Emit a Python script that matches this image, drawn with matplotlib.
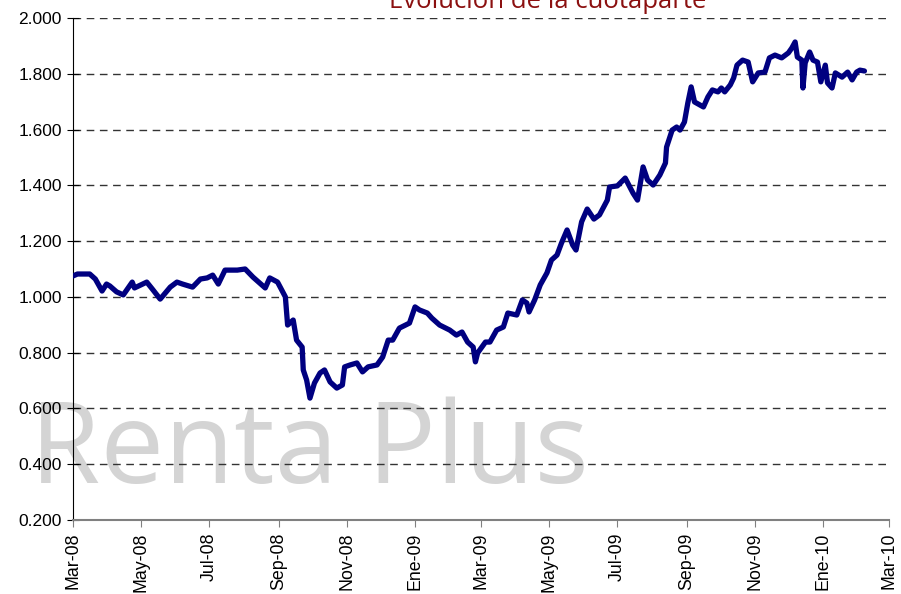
import matplotlib.pyplot as plt
from matplotlib.ticker import FuncFormatter
import pandas as pd

# days since 1-Mar-2008 and cuotaparte value
days = [0, 4, 15, 20, 26, 30, 33, 39, 45, 53, 55, 66, 71, 78, 87, 93, 98, 107,
        114, 120, 125, 130, 136, 147, 154, 161, 172, 176, 183, 190, 192, 197,
        200, 205, 206, 209, 212, 216, 221, 225, 230, 236, 241, 243, 248, 254,
        259, 264, 272, 277, 282, 286, 292, 301, 306, 310, 317, 321, 328, 337,
        343, 348, 353, 358, 360, 362, 369, 373, 379, 385, 389, 397, 402, 406,
        408, 413, 418, 424, 428, 433, 437, 442, 447, 450, 455, 460, 466, 471,
        478, 480, 487, 494, 501, 505, 510, 514, 519, 525, 530, 531, 536, 540,
        543, 547, 550, 553, 556, 564, 568, 572, 577, 580, 583, 588, 591, 594,
        599, 604, 608, 613, 619, 623, 628, 634, 640, 643, 646, 648, 652, 653,
        655, 659, 662, 666, 669, 673, 675, 679, 682, 688, 693, 697, 701, 704, 708]
values = [1.075, 1.082, 1.082, 1.064, 1.021, 1.046, 1.039, 1.018, 1.007, 1.053,
          1.032, 1.053, 1.028, 0.992, 1.035, 1.053, 1.046, 1.035, 1.064, 1.068,
          1.078, 1.046, 1.096, 1.096, 1.100, 1.071, 1.032, 1.068, 1.053, 1.000,
          0.899, 0.917, 0.845, 0.820, 0.738, 0.702, 0.637, 0.691, 0.727, 0.738,
          0.695, 0.673, 0.684, 0.749, 0.756, 0.763, 0.731, 0.749, 0.756, 0.784,
          0.845, 0.845, 0.888, 0.906, 0.964, 0.953, 0.942, 0.924, 0.899, 0.881,
          0.863, 0.874, 0.838, 0.820, 0.767, 0.799, 0.838, 0.838, 0.881, 0.892,
          0.942, 0.935, 0.989, 0.978, 0.946, 0.989, 1.043, 1.086, 1.132, 1.150,
          1.193, 1.240, 1.186, 1.168, 1.269, 1.315, 1.279, 1.294, 1.347, 1.394,
          1.398, 1.426, 1.372, 1.347, 1.466, 1.419, 1.401, 1.437, 1.480, 1.537,
          1.598, 1.609, 1.598, 1.627, 1.695, 1.753, 1.699, 1.681, 1.717, 1.742,
          1.735, 1.749, 1.735, 1.760, 1.785, 1.831, 1.849, 1.842, 1.771, 1.803,
          1.806, 1.857, 1.867, 1.857, 1.875, 1.892, 1.914, 1.860, 1.849, 1.749,
          1.839, 1.878, 1.849, 1.842, 1.771, 1.831, 1.767, 1.749, 1.803, 1.788,
          1.806, 1.778, 1.806, 1.813, 1.810]

tick_dates = ["2008-03-01", "2008-05-01", "2008-07-01", "2008-09-01", "2008-11-01",
              "2009-01-01", "2009-03-01", "2009-05-01", "2009-07-01", "2009-09-01",
              "2009-11-01", "2010-01-01", "2010-03-01"]
tick_labels = ["Mar-08", "May-08", "Jul-08", "Sep-08", "Nov-08", "Ene-09", "Mar-09",
               "May-09", "Jul-09", "Sep-09", "Nov-09", "Ene-10", "Mar-10"]
y_ticks = [0.2, 0.4, 0.6, 0.8, 1.0, 1.2, 1.4, 1.6, 1.8, 2.0]

dates = pd.Timestamp("2008-03-01") + pd.to_timedelta(days, unit="D")
ticks = pd.to_datetime(tick_dates)

plt.rcParams['font.family'] = ['Liberation Sans', 'DejaVu Sans']

fig = plt.figure(figsize=(9.01, 5.94), dpi=100)
ax = fig.add_axes([0.081, 0.1246, 0.9057, 0.8451])

ax.plot(dates, values, color="#000080", lw=3.8, solid_joinstyle="round",
        solid_capstyle="round", zorder=3)

ax.set_xlim(ticks[0], ticks[-1])
ax.set_ylim(0.2, 2.0)
ax.set_yticks(y_ticks)
ax.yaxis.set_major_formatter(FuncFormatter(lambda v, p: f"{v:.3f}"))
ax.set_xticks(ticks)
ax.set_xticklabels(tick_labels, rotation=90)

ax.grid(axis="y", color="#333333", linestyle=(0, (5.5, 4)), lw=1.0)
for s in ["top", "right"]:
    ax.spines[s].set_visible(False)
ax.spines["left"].set_color("black")
ax.spines["bottom"].set_color("#808080")
ax.spines["bottom"].set_linewidth(1.5)
ax.tick_params(axis="y", direction="inout", length=8, labelsize=12.5, pad=4)
ax.tick_params(axis="x", direction="out", length=5, color="#808080",
               labelsize=12.8, pad=4)

# watermark
ax.text(30 / 901, 1 - 483 / 594, "Renta Plus", transform=fig.transFigure,
        fontsize=82, family="Open Sans", color="#d4d4d4", ha="left",
        va="baseline", zorder=0.5, clip_on=False)

fig.text(548 / 901, 1 - 8 / 594, "Evolución de la cuotaparte", fontsize=18.5,
         family="Open Sans", color="#8b1010", ha="center", va="baseline")

fig.savefig("out.png", dpi=100)
